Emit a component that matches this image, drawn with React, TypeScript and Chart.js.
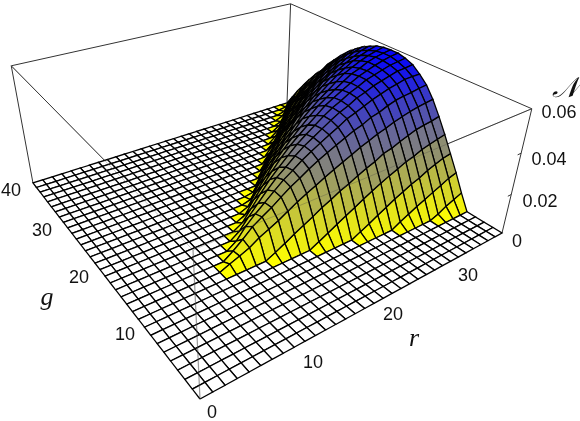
import { useEffect, useRef } from "react";
import { Chart, registerables } from "chart.js";
Chart.register(...registerables);

// grid: 32 steps along r, 32 steps along g; height = N / 0.06
const rSteps = 32;
const gSteps = 32;
const firstRowIndex = 9;
const firstG: number[] = [10,10,10,10,9,9,9,9,8,8,8,8,7,7,7,7,6,6,6,6,5,5,5,5];
const rowR09 = [0.035];
const rowR10 = [0.065,0.056];
const rowR11 = [0.099,0.12,0.054];
const rowR12 = [0.148,0.19,0.146,0.055];
const rowR13 = [0.038,0.185,0.24,0.218,0.146,0.046];
const rowR14 = [0.081,0.223,0.286,0.281,0.229,0.142,0.038];
const rowR15 = [0.126,0.27,0.341,0.347,0.312,0.238,0.144,0.032];
const rowR16 = [0.168,0.316,0.394,0.41,0.387,0.328,0.238,0.139,0.02];
const rowR17 = [0.041,0.207,0.354,0.437,0.46,0.446,0.403,0.331,0.235,0.133,0.014];
const rowR18 = [0.082,0.252,0.391,0.484,0.515,0.51,0.474,0.417,0.335,0.232,0.124];
const rowR19 = [0.124,0.288,0.429,0.525,0.559,0.565,0.542,0.492,0.418,0.328,0.226,0.119];
const rowR20 = [0.165,0.329,0.464,0.561,0.601,0.61,0.598,0.555,0.494,0.415,0.317,0.22,0.11];
const rowR21 = [0.039,0.203,0.36,0.498,0.596,0.642,0.655,0.648,0.616,0.563,0.491,0.406,0.308,0.21,0.098];
const rowR22 = [0.077,0.245,0.399,0.532,0.63,0.679,0.7,0.7,0.672,0.63,0.574,0.49,0.399,0.301,0.203,0.084];
const rowR23 = [0.119,0.283,0.432,0.566,0.663,0.723,0.741,0.745,0.73,0.693,0.637,0.574,0.492,0.395,0.298,0.194,0.082];
const rowR24 = [0.156,0.32,0.46,0.593,0.686,0.749,0.772,0.78,0.772,0.741,0.694,0.64,0.562,0.476,0.374,0.281,0.179,0.062];
const rowR25 = [0.041,0.197,0.353,0.5,0.623,0.722,0.779,0.812,0.82,0.812,0.787,0.746,0.697,0.631,0.558,0.467,0.369,0.271,0.172,0.057];
const rowR26 = [0.077,0.23,0.383,0.519,0.646,0.74,0.808,0.837,0.85,0.85,0.833,0.799,0.752,0.697,0.62,0.544,0.45,0.357,0.264,0.162,0.051];
const rowR27 = [0.115,0.266,0.416,0.549,0.673,0.77,0.832,0.867,0.885,0.885,0.876,0.85,0.805,0.752,0.69,0.611,0.531,0.443,0.345,0.257,0.15,0.044];
const rowR28 = [0.146,0.291,0.437,0.573,0.692,0.792,0.855,0.887,0.905,0.91,0.901,0.883,0.846,0.801,0.746,0.673,0.601,0.519,0.428,0.337,0.237,0.137,0.027];
const rowR29 = [0.028,0.178,0.327,0.468,0.598,0.711,0.804,0.87,0.907,0.926,0.935,0.935,0.916,0.888,0.842,0.795,0.729,0.664,0.589,0.496,0.411,0.327,0.234,0.131,0.028];
const rowR30 = [0.067,0.21,0.353,0.487,0.611,0.726,0.812,0.888,0.926,0.945,0.955,0.955,0.941,0.917,0.879,0.836,0.783,0.716,0.649,0.573,0.478,0.401,0.306,0.22,0.115,0.019];
const rowR31 = [0.097,0.243,0.378,0.504,0.621,0.737,0.825,0.892,0.931,0.955,0.97,0.97,0.96,0.941,0.912,0.873,0.825,0.766,0.698,0.63,0.543,0.466,0.378,0.291,0.194,0.107,0.01];
const rowR32 = [0.127,0.265,0.392,0.519,0.637,0.745,0.833,0.892,0.941,0.965,0.98,0.98,0.975,0.96,0.931,0.897,0.853,0.804,0.745,0.676,0.608,0.519,0.451,0.372,0.284,0.196,0.098];
const rows = [rowR09,rowR10,rowR11,rowR12,rowR13,rowR14,rowR15,rowR16,rowR17,rowR18,rowR19,rowR20,rowR21,rowR22,rowR23,rowR24,rowR25,rowR26,rowR27,rowR28,rowR29,rowR30,rowR31,rowR32];

const rTicks = [{t:"0",x:212,y:413},{t:"10",x:313,y:363},{t:"20",x:393,y:315},{t:"30",x:468,y:276}];
const gTicks = [{t:"10",x:125,y:335},{t:"20",x:79,y:278},{t:"30",x:42,y:231},{t:"40",x:11,y:191}];
const nTicks = [{t:"0",x:517,y:242},{t:"0.02",x:540,y:202},{t:"0.04",x:549,y:160},{t:"0.06",x:559,y:113}];

const P = [[482,-150.8,-34,200],[-82.5,-126,-184,399],[0.3585,0.4924,-0.14,1]];
const depth=(s:number,t:number,z:number)=>P[2][0]*s+P[2][1]*t+P[2][2]*z+P[2][3];
const proj=(s:number,t:number,z:number)=>{
  const w=depth(s,t,z);
  return {x:(P[0][0]*s+P[0][1]*t+P[0][2]*z+P[0][3])/w,y:(P[1][0]*s+P[1][1]*t+P[1][2]*z+P[1][3])/w};
};
const height=(i:number,j:number)=>{
  const row=rows[i-firstRowIndex];
  if(!row)return 0;
  const k=j-firstG[i-firstRowIndex];
  return k>=0&&k<row.length?row[k]:0;
};
const line=(pts:{x:number;y:number}[],color:string,w:number)=>({data:pts,showLine:true,fill:false,borderColor:color,borderWidth:w,pointRadius:0,tension:0,clip:false});

const textPlugin={id:"labels",afterDraw(c:any){
  const x=c.ctx;x.save();x.fillStyle="#111";x.textAlign="center";x.textBaseline="middle";
  x.font='18px "Liberation Sans"';
  for(const l of [...rTicks,...gTicks,...nTicks])x.fillText(l.t,c.scales.x.getPixelForValue(l.x),c.scales.y.getPixelForValue(l.y));
  x.font='italic 26px "Liberation Serif"';
  x.fillText("g",47,298);x.fillText("r",414,339);
  x.font='italic 28px "DejaVu Serif","Liberation Serif"';
  x.fillText("𝒩",565,90);
  x.restore();
}};

export default function App(){
  const ref=useRef<HTMLCanvasElement>(null);
  useEffect(()=>{
    const quads:{w:number;d:any}[]=[];
    for(let i=0;i<rSteps;i++)for(let j=0;j<gSteps;j++){
      const a=i/rSteps,b=(i+1)/rSteps,c=j/gSteps,d=(j+1)/gSteps;
      const z=[height(i,j),height(i+1,j),height(i+1,j+1),height(i,j+1)];
      const m=(z[0]+z[1]+z[2]+z[3])/4;
      const on=z.some(v=>v>0);
      const col=on?`rgb(${Math.round(255*(1-m))},${Math.round(255*(1-m))},${Math.round(255*m)})`:"#fff";
      quads.push({w:depth((a+b)/2,(c+d)/2,m),d:{data:[proj(a,c,z[0]),proj(b,c,z[1]),proj(b,d,z[2]),proj(a,d,z[3]),proj(a,c,z[0])],showLine:true,fill:"shape",backgroundColor:col,borderColor:"#000",borderWidth:1.3,pointRadius:0,tension:0,clip:false}});
    }
    quads.sort((p,q)=>p.w-q.w);
    const edge="#333";
    const front=[proj(1,0,1),proj(0,0,1),proj(0,1,1)];
    const overlay=[line(front,"rgba(70,70,70,0.3)",1),line([proj(0,0,1),proj(0,0,0)],"rgba(70,70,70,0.55)",1.2)];
    const box=[
      line([proj(0,0,0),proj(0,0,1),proj(1,0,1),proj(1,1,1),proj(0,1,1),proj(0,0,1)],edge,1),
      line([proj(1,0,0),proj(1,0,1)],edge,1),
      line([proj(0,1,0),proj(0,1,1)],edge,1),
      line([proj(1,1,0),proj(1,1,1)],edge,1),
      line([proj(1,0,1/3),proj(0.985,0,1/3)],edge,1),
      line([proj(1,0,2/3),proj(0.985,0,2/3)],edge,1),
    ];
    const chart=new Chart(ref.current!,{type:"scatter",data:{datasets:[...overlay,...quads.map(q=>q.d),...box]},plugins:[textPlugin],options:{animation:false,responsive:false,layout:{padding:0},plugins:{legend:{display:false},tooltip:{enabled:false}},
      scales:{x:{display:false,min:0,max:580},y:{display:false,min:0,max:421,reverse:true}}}});
    return ()=>chart.destroy();
  },[]);
  return <canvas ref={ref} width={580} height={421} style={{position:"absolute",left:0,top:0,display:"block"}}/>;
}
